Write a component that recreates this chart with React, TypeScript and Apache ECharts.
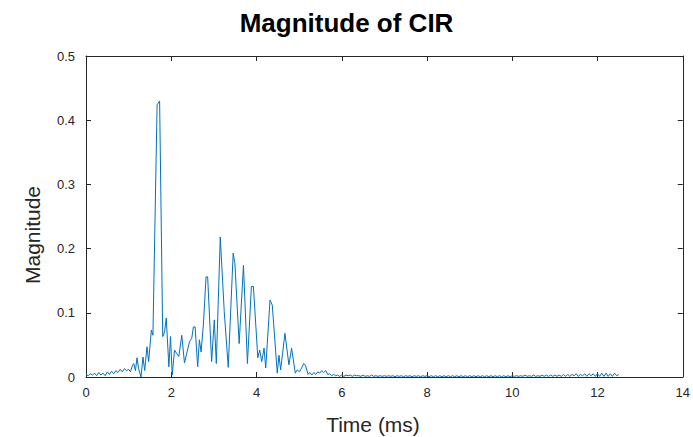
import React, { useEffect, useRef } from "react";
import * as echarts from "echarts";

// Time (ms) / magnitude samples, 0 – 6 ms
const headTime: number[] = [
  0, 0.05, 0.1, 0.15, 0.2, 0.25, 0.3, 0.35, 0.4, 0.45, 0.5, 0.55, 0.6, 0.65, 0.7, 0.75, 0.8, 0.85, 0.9, 0.95, 1.0,
  1.043, 1.085, 1.12, 1.16, 1.197, 1.237, 1.29, 1.337, 1.377, 1.43, 1.47, 1.533, 1.57, 1.668, 1.727, 1.8, 1.843,
  1.883, 1.944, 1.983, 2.023, 2.077, 2.123, 2.177, 2.247, 2.31, 2.364, 2.427, 2.48, 2.52, 2.56, 2.62, 2.66, 2.7,
  2.753, 2.816, 2.854, 2.947, 3.01, 3.057, 3.15, 3.243, 3.337, 3.453, 3.493, 3.593, 3.694, 3.787, 3.88, 3.927,
  4.03, 4.076, 4.123, 4.177, 4.216, 4.317, 4.37, 4.487, 4.527, 4.566, 4.667, 4.76, 4.823, 4.91, 4.954, 5.01, 5.11,
  5.15, 5.21, 5.25, 5.297, 5.343, 5.39, 5.437, 5.483, 5.53, 5.577, 5.623, 5.67, 5.717, 5.763, 5.81, 5.857, 5.9, 5.95,
];
const headMagnitude: number[] = [
  0.004, 0.002, 0.005, 0.003, 0.006, 0.002, 0.007, 0.003, 0.006, 0.002, 0.008, 0.004, 0.009, 0.005, 0.01, 0.007, 0.012, 0.008, 0.013, 0.01, 0.012,
  0.008, 0.017, 0.021, 0.01, 0.03, 0.012, 0.0, 0.031, 0.01, 0.047, 0.024, 0.073, 0.065, 0.424, 0.43, 0.063, 0.07,
  0.092, 0.016, 0.063, 0.003, 0.042, 0.037, 0.032, 0.065, 0.022, 0.037, 0.055, 0.06, 0.078, 0.078, 0.016, 0.058, 0.039,
  0.081, 0.156, 0.156, 0.024, 0.089, 0.021, 0.218, 0.102, 0.015, 0.193, 0.177, 0.052, 0.174, 0.021, 0.141, 0.141,
  0.03, 0.042, 0.024, 0.045, 0.014, 0.12, 0.112, 0.006, 0.034, 0.011, 0.068, 0.019, 0.045, 0.006, 0.011, 0.008, 0.021,
  0.018, 0.004, 0.007, 0.003, 0.007, 0.004, 0.008, 0.006, 0.01, 0.007, 0.01, 0.004, 0.005, 0.002, 0.004, 0.002, 0.003, 0.001,
];
// Tail samples, every 0.05 ms from 6.0 ms to 12.5 ms
const tailStart = 6.0;
const tailStep = 0.05;
const tailMagnitude: number[] = [
  0.003, 0.001, 0.003, 0.002, 0.003, 0.001, 0.003, 0.002, 0.002, 0.001, 0.003, 0.001, 0.002, 0.001, 0.003, 0.001, 0.002, 0.001, 0.002, 0.001,
  0.002, 0.001, 0.002, 0.001, 0.002, 0.0005, 0.002, 0.001, 0.002, 0.0005, 0.002, 0.001, 0.002, 0.0005, 0.002, 0.001, 0.002, 0.0005, 0.002, 0.001,
  0.002, 0.0005, 0.002, 0.0005, 0.002, 0.0005, 0.002, 0.0005, 0.002, 0.0005, 0.002, 0.0005, 0.002, 0.0005, 0.002, 0.0005, 0.002, 0.0005, 0.002, 0.0005,
  0.002, 0.0005, 0.002, 0.0005, 0.002, 0.0005, 0.002, 0.0005, 0.002, 0.0005, 0.002, 0.0005, 0.002, 0.0005, 0.002, 0.0005, 0.002, 0.0005, 0.002, 0.0005,
  0.002, 0.001, 0.002, 0.001, 0.002, 0.001, 0.003, 0.001, 0.002, 0.001, 0.003, 0.001, 0.002, 0.001, 0.003, 0.001, 0.003, 0.001, 0.003, 0.001,
  0.003, 0.001, 0.003, 0.001, 0.004, 0.001, 0.004, 0.001, 0.004, 0.002, 0.005, 0.001, 0.004, 0.002, 0.005, 0.001, 0.005, 0.002, 0.005, 0.001,
  0.005, 0.001, 0.006, 0.001, 0.006, 0.001, 0.005, 0.001, 0.006, 0.002, 0.004,
];

const xTicks = { min: 0, max: 14, interval: 2 };
const yTicks = { min: 0, max: 0.5, interval: 0.1 };

const titleText = "Magnitude of CIR";
const xLabel = "Time (ms)";
const yLabel = "Magnitude";

export default function App() {
  const ref = useRef<HTMLDivElement>(null);
  useEffect(() => {
    document.body.style.margin = "0";
    if (!ref.current) return;
    const chart = echarts.init(ref.current, undefined, { renderer: "svg" });
    const data: number[][] = headTime.map((t, i) => [t, headMagnitude[i]]);
    tailMagnitude.forEach((v, i) => data.push([+(tailStart + i * tailStep).toFixed(3), v]));

    const axisColor = "#262626";
    const font = "'Liberation Sans', Arial, Helvetica, sans-serif";
    const baseAxis = {
      type: "value" as const,
      axisLine: { show: true, onZero: false, lineStyle: { color: axisColor, width: 1 } },
      axisTick: { show: true, inside: true, length: 5, lineStyle: { color: axisColor } },
      splitLine: { show: false },
    };

    chart.setOption({
      animation: false,
      backgroundColor: "#ffffff",
      title: {
        text: titleText,
        left: "center",
        top: 5,
        textStyle: { fontFamily: font, fontSize: 26, fontWeight: "bold", color: "#000000" },
      },
      graphic: [
        {
          type: "text",
          x: 373,
          y: 424,
          style: {
            text: xLabel,
            fontFamily: font,
            fontSize: 21,
            fill: axisColor,
            align: "center",
            verticalAlign: "middle",
          },
        },
        {
          type: "text",
          x: 32,
          y: 235,
          rotation: Math.PI / 2,
          style: {
            text: yLabel,
            fontFamily: font,
            fontSize: 21,
            fill: axisColor,
            align: "center",
            verticalAlign: "middle",
          },
        },
      ],
      grid: { left: 86, right: 7, top: 56, bottom: 60 },
      xAxis: [
        {
          ...baseAxis,
          ...xTicks,
          position: "bottom",
          axisLabel: { show: true, margin: 9, color: axisColor, fontFamily: font, fontSize: 13 },
        },
        {
          ...baseAxis,
          ...xTicks,
          position: "top",
          axisLabel: { show: false },
        },
      ],
      yAxis: [
        {
          ...baseAxis,
          ...yTicks,
          position: "left",
          axisLabel: { show: true, margin: 11, color: axisColor, fontFamily: font, fontSize: 13 },
        },
        {
          ...baseAxis,
          ...yTicks,
          position: "right",
          axisLabel: { show: false },
        },
      ],
      series: [
        {
          type: "line",
          xAxisIndex: 0,
          yAxisIndex: 0,
          data,
          showSymbol: false,
          symbol: "none",
          lineStyle: { color: "#0072BD", width: 1 },
          itemStyle: { color: "#0072BD" },
        },
      ],
    });
    return () => chart.dispose();
  }, []);
  return <div ref={ref} style={{ width: 693, height: 437 }} />;
}
